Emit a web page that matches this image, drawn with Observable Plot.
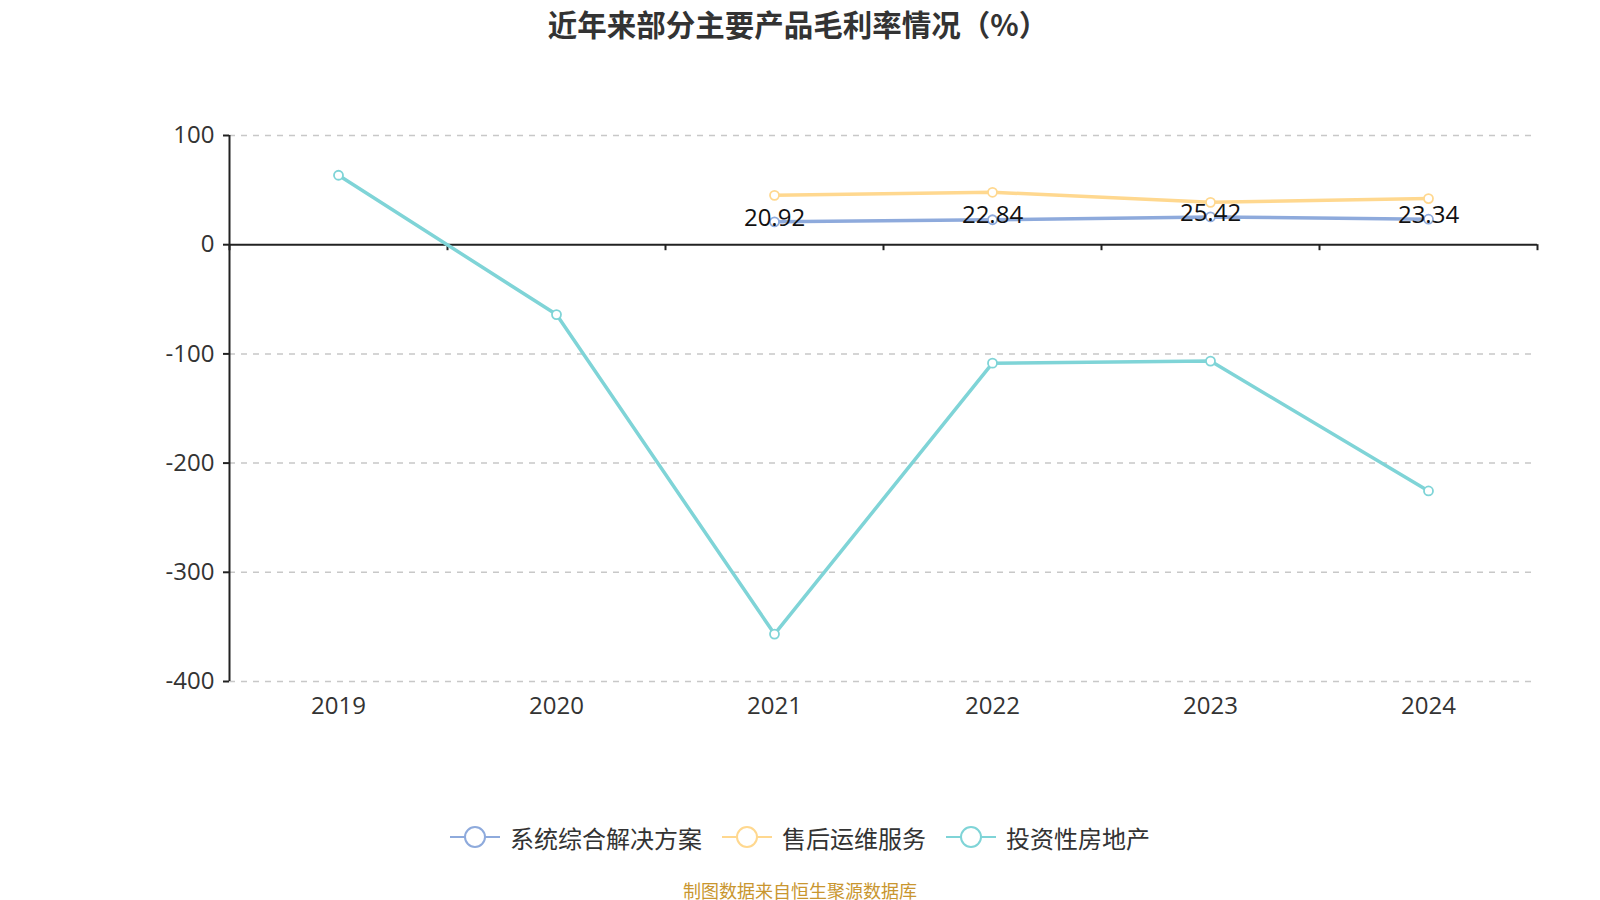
<!DOCTYPE html>
<html>
<head>
<meta charset="utf-8">
<script src="https://cdn.jsdelivr.net/npm/d3@7"></script>
<script src="https://cdn.jsdelivr.net/npm/@observablehq/plot@0.6"></script>
<style>
  html, body { margin: 0; padding: 0; background: #fff; overflow: hidden; }
  #wrap { width: 1600px; font-family: "Open Sans", "Noto Sans CJK SC", sans-serif; }
  #title { height: 50px; line-height: 46px; text-align: center; font-size: 29.5px; font-weight: bold; color: #333; padding-right: 4px; box-sizing: border-box; font-family: "Noto Sans CJK SC", sans-serif; }
  #legend { height: 74px; display: flex; justify-content: center; align-items: center; font-size: 24px; color: #333; font-family: "Noto Sans CJK SC", sans-serif; }
  .item { display: flex; align-items: center; margin: 0 10px; }
  .item svg { margin-right: 10px; }
  #caption { height: 32px; line-height: 32px; text-align: center; font-size: 18px; color: #c9962f; font-family: "Noto Sans CJK SC", sans-serif; }
</style>
</head>
<body>
<div id="wrap">
  <div id="title">近年来部分主要产品毛利率情况（%）</div>
  <div id="chart"></div>
  <div id="legend"></div>
  <div id="caption">制图数据来自恒生聚源数据库</div>
</div>
<script>
const years = [2019, 2020, 2021, 2022, 2023, 2024];
const seriesNames = ["系统综合解决方案", "售后运维服务", "投资性房地产"];
const seriesColors = ["#8eaadc", "#ffd88f", "#7fd4d7"];
const systemSolution = [null, null, 20.92, 22.84, 25.42, 23.34];
const afterSales = [null, null, 45.2, 48.0, 38.8, 42.2];
const investmentProperty = [63.6, -64.0, -356.6, -108.5, -106.6, -225.5];
const yTicks = [100, 0, -100, -200, -300, -400];
const gridTicks = [100, -100, -200, -300, -400];

const seriesValues = [systemSolution, afterSales, investmentProperty];
const rows = [];
seriesNames.forEach((name, si) => {
  years.forEach((yr, i) => {
    const v = seriesValues[si][i];
    if (v !== null) rows.push({series: name, year: yr, value: v});
  });
});
const labelRows = rows.filter(d => d.series === seriesNames[0]);
const boundaries = [years[0] - 0.5, ...years.map(y => y + 0.5)];

const font = "'Open Sans', 'Noto Sans CJK SC', sans-serif";

const chart = Plot.plot({
  width: 1600,
  height: 750,
  marginTop: 85,
  marginBottom: 119,
  marginLeft: 229,
  marginRight: 63,
  style: {fontFamily: font, color: "#333", background: "#fff"},
  x: {type: "linear", domain: [years[0] - 0.5, years[years.length - 1] + 0.5]},
  y: {domain: [-400, 100]},
  color: {domain: seriesNames, range: seriesColors},
  marks: [
    Plot.ruleY(gridTicks, {stroke: "#c8c8c8", strokeWidth: 1.5, strokeDasharray: "6,6"}),
    Plot.ruleX([years[0] - 0.5], {stroke: "#222", strokeWidth: 2}),
    Plot.ruleY([0], {stroke: "#222", strokeWidth: 2}),
    Plot.ruleX(boundaries, {x: d => d, y1: 0, y2: -5.5, stroke: "#222", strokeWidth: 2}),
    Plot.axisY({ticks: yTicks, tickSize: 6, tickPadding: 9, tickFormat: d => String(d), fontSize: 24, fill: "#333", stroke: "#222", strokeWidth: 2, label: null}),
    Plot.axisX({ticks: years, tickSize: 0, tickPadding: 15, tickFormat: d => String(d), fontSize: 24, fill: "#333", label: null}),
    Plot.line(rows, {x: "year", y: "value", z: "series", stroke: "series", strokeWidth: 3.5}),
    Plot.dot(rows, {x: "year", y: "value", stroke: "series", fill: "#fff", r: 4.5, strokeWidth: 1.8}),
    Plot.text(labelRows, {x: "year", y: "value", text: d => d.value.toFixed(2), dy: -4, fontSize: 24, fill: "#111"})
  ]
});
document.getElementById("chart").appendChild(chart);

const legend = document.getElementById("legend");
seriesNames.forEach((name, i) => {
  const item = document.createElement("div");
  item.className = "item";
  item.innerHTML = `<svg width="50" height="24"><line x1="0" y1="12" x2="50" y2="12" stroke="${seriesColors[i]}" stroke-width="2"/><circle cx="25" cy="12" r="10" fill="#fff" stroke="${seriesColors[i]}" stroke-width="2"/></svg><span>${name}</span>`;
  legend.appendChild(item);
});
</script>
</body>
</html>
